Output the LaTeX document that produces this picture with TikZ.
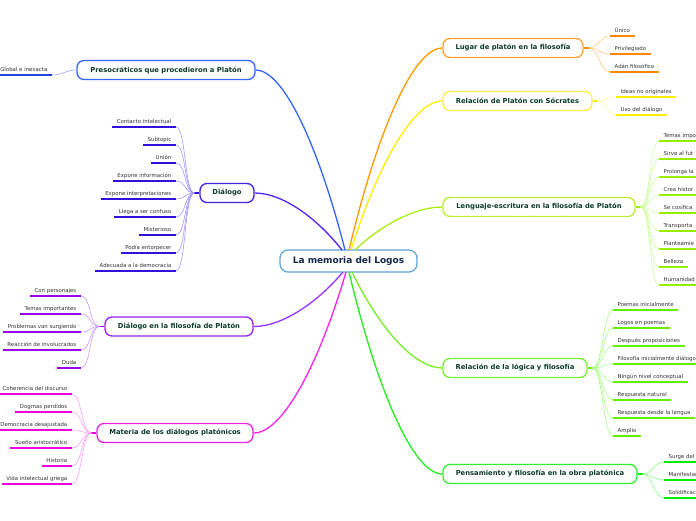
\documentclass[tikz,border=0pt]{standalone}
\usepackage{fontspec}
\setmainfont{DejaVu Sans}
\usetikzlibrary{calc}
\definecolor{maintext}{HTML}{0B3B2C}
\definecolor{leaftext}{HTML}{333333}
\definecolor{centertext}{HTML}{14284B}
\definecolor{Mbx}{HTML}{5AA5DC}
\definecolor{Aln}{HTML}{3366FF}\definecolor{Abx}{HTML}{3366FF}\definecolor{Aul}{HTML}{2244DD}\definecolor{Alc}{HTML}{8FA8FF}
\definecolor{Bln}{HTML}{5522EE}\definecolor{Bbx}{HTML}{4422DD}\definecolor{Bul}{HTML}{3311DD}\definecolor{Blc}{HTML}{A499FF}
\definecolor{Cln}{HTML}{9933FF}\definecolor{Cbx}{HTML}{9922EE}\definecolor{Cul}{HTML}{9900EE}\definecolor{Clc}{HTML}{CC99FF}
\definecolor{Dln}{HTML}{FF22EE}\definecolor{Dbx}{HTML}{EE22DD}\definecolor{Dul}{HTML}{EE00DD}\definecolor{Dlc}{HTML}{FFA0F5}
\definecolor{Eln}{HTML}{FF9900}\definecolor{Ebx}{HTML}{FFA030}\definecolor{Eul}{HTML}{FF8800}\definecolor{Elc}{HTML}{FFCC80}
\definecolor{Fln}{HTML}{FFEE00}\definecolor{Fbx}{HTML}{FFEE44}\definecolor{Ful}{HTML}{FFEE00}\definecolor{Flc}{HTML}{FFFF99}
\definecolor{Gln}{HTML}{AAEE11}\definecolor{Gbx}{HTML}{BBEE33}\definecolor{Gul}{HTML}{99EE00}\definecolor{Glc}{HTML}{CCFF99}
\definecolor{Hln}{HTML}{77EE22}\definecolor{Hbx}{HTML}{77EE33}\definecolor{Hul}{HTML}{66EE00}\definecolor{Hlc}{HTML}{AAFF88}
\definecolor{Iln}{HTML}{22EE22}\definecolor{Ibx}{HTML}{33EE33}\definecolor{Iul}{HTML}{00EE00}\definecolor{Ilc}{HTML}{88FF88}
\newcommand\lffont{\fontsize{5.4}{6}\selectfont}
\newcommand\mnfont{\fontsize{6.8}{8}\selectfont\bfseries}
\newcommand\ctfont{\fontsize{9}{11}\selectfont\bfseries}
\tikzset{
  mainbox/.style={draw=#1bx, line width=1.3pt, rounded corners=7pt, fill=white,
    minimum height=19pt, inner sep=0pt, font=\mnfont, text=maintext},
  mainline/.style={draw=#1ln, line width=1.3pt},
  ulline/.style={draw=#1ul, line width=1.5pt},
  stubline/.style={draw=#1ul, line width=1.2pt},
  leafline/.style={draw=#1lc, line width=0.6pt},
  lleaf/.style={anchor=south east, inner xsep=4.5pt, inner ysep=2.5pt,
    text height=4pt, text depth=1.3pt, font=\lffont, text=leaftext},
  rleaf/.style={anchor=south west, inner xsep=4.5pt, inner ysep=2.5pt,
    text height=4pt, text depth=1.3pt, font=\lffont, text=leaftext}
}
% name, branch, fan, x, y, text
\newcommand\LLeaf[6]{%
  \node[lleaf] (#1) at (#4,#5) {#6};
  \draw[leafline=#2] (#3) .. controls +(-10,0) and +(10,0) .. (#1.south east);
  \draw[ulline=#2] (#1.south west) -- (#1.south east);
}
\newcommand\RLeaf[6]{%
  \node[rleaf] (#1) at (#4,#5) {#6};
  \draw[leafline=#2] (#3) .. controls +(10,0) and +(-10,0) .. (#1.south west);
  \draw[ulline=#2] (#1.south west) -- (#1.south east);
}
\begin{document}
\begin{tikzpicture}[x=1pt,y=-1pt]
\clip (0,0) rectangle (696,520);
\fill[white] (0,0) rectangle (696,520);

% center
\node[draw=Mbx, line width=1.2pt, rounded corners=8pt, fill=white, minimum width=137pt,
  minimum height=22pt, inner sep=0pt, font=\ctfont, text=centertext] (M) at (348.5,261) {La memoria del Logos};

% main nodes
\node[mainbox=A, minimum width=178pt] (A) at (166,70) {Presocráticos que procedieron a Platón};
\node[mainbox=B, minimum width=54pt] (B) at (227,193) {Diálogo};
\node[mainbox=C, minimum width=148pt] (C) at (179,326.5) {Diálogo en la filosofía de Platón};
\node[mainbox=D, minimum width=156pt] (D) at (175,433) {Materia de los diálogos platónicos};
\node[mainbox=E, minimum width=140pt] (E) at (513,48) {Lugar de platón en la filosofía};
\node[mainbox=F, minimum width=149pt] (F) at (517.5,101) {Relación de Platón con Sócrates};
\node[mainbox=G, minimum width=192pt] (G) at (539,207) {Lenguaje-escritura en la filosofía de Platón};
\node[mainbox=H, minimum width=144pt] (H) at (515,368) {Relación de la lógica y filosofía};
\node[mainbox=I, minimum width=194pt] (I) at (540,474) {Pensamiento y filosofía en la obra platónica};

% start points on center node
\coordinate (sA) at (345,250);
\coordinate (sB) at (342,250);
\coordinate (sE) at (349,250);
\coordinate (sF) at (351,250);
\coordinate (sG) at (355,250);
\coordinate (sC) at (343,272);
\coordinate (sD) at (346,272);
\coordinate (sH) at (352,272);
\coordinate (sI) at (349,272);

% main connectors
\draw[mainline=A] (sA) .. controls (319.8,151) and (284.7,70) .. (A.east);
\draw[mainline=B] (sB) .. controls (317.4,218.6) and (283,193) .. (B.east);
\draw[mainline=C] (sC) .. controls (317.8,302) and (282.7,326.5) .. (C.east);
\draw[mainline=D] (sD) .. controls (320,360.5) and (283.7,433) .. (D.east);
\draw[mainline=E] (sE) .. controls (375.3,138.9) and (412,48) .. (E.west);
\draw[mainline=F] (sF) .. controls (376.8,168) and (412.6,101) .. (F.west);
\draw[mainline=G] (sG) .. controls (379.6,226.4) and (414,207) .. (G.west);
\draw[mainline=H] (sH) .. controls (377.5,324.8) and (413,368) .. (H.west);
\draw[mainline=I] (sI) .. controls (375.3,383) and (412,474) .. (I.west);

% fan points
\coordinate (Af) at (A.west);
\coordinate (Bf) at ($(B.west)+(-5,0)$);
\coordinate (Cf) at ($(C.west)+(-5,0)$);
\coordinate (Df) at ($(D.west)+(-5,0)$);
\coordinate (Ef) at ($(E.east)+(5,0)$);
\coordinate (Ff) at ($(F.east)+(5,0)$);
\coordinate (Gf) at ($(G.east)+(5,0)$);
\coordinate (Hf) at ($(H.east)+(5,0)$);
\coordinate (If) at ($(I.east)+(5,0)$);
\draw[stubline=B] (B.west) -- (Bf);
\draw[stubline=C] (C.west) -- (Cf);
\draw[stubline=D] (D.west) -- (Df);
\draw[stubline=E] (E.east) -- (Ef);
\draw[stubline=F] (F.east) -- (Ff);
\draw[stubline=G] (G.east) -- (Gf);
\draw[stubline=H] (H.east) -- (Hf);
\draw[stubline=I] (I.east) -- (If);

% leaves A
\LLeaf{a1}{A}{Af}{52}{75}{Global e inexacta}
% leaves B
\LLeaf{b1}{B}{Bf}{176}{127}{Contacto intelectual}
\LLeaf{b2}{B}{Bf}{176}{145}{Subtopic}
\LLeaf{b3}{B}{Bf}{176}{163}{Unión}
\LLeaf{b4}{B}{Bf}{176}{181}{Expone información}
\LLeaf{b5}{B}{Bf}{176}{199}{Expone interpretaciones}
\LLeaf{b6}{B}{Bf}{176}{217}{Llega a ser confuso}
\LLeaf{b7}{B}{Bf}{176}{235}{Misterioso}
\LLeaf{b8}{B}{Bf}{176}{253}{Podía entorpecer}
\LLeaf{b9}{B}{Bf}{176}{271}{Adecuada a la democracia}
% leaves C
\LLeaf{c1}{C}{Cf}{81}{296}{Con personajes}
\LLeaf{c2}{C}{Cf}{81}{314}{Temas importantes}
\LLeaf{c3}{C}{Cf}{81}{332}{Problemas van surgiendo}
\LLeaf{c4}{C}{Cf}{81}{350}{Reacción de involucrados}
\LLeaf{c5}{C}{Cf}{81}{368}{Duda}
% leaves D
\LLeaf{d1}{D}{Df}{72}{394}{Coherencia del discurso}
\LLeaf{d2}{D}{Df}{72}{412}{Dogmas perdidos}
\LLeaf{d3}{D}{Df}{72}{430}{Democracia desajustada}
\LLeaf{d4}{D}{Df}{72}{448}{Sueño aristocrático}
\LLeaf{d5}{D}{Df}{72}{466}{Historia}
\LLeaf{d6}{D}{Df}{72}{484}{Vida intelectual griega}
% leaves E
\RLeaf{e1}{E}{Ef}{610}{36}{Único}
\RLeaf{e2}{E}{Ef}{610}{54}{Privilegiado}
\RLeaf{e3}{E}{Ef}{610}{72}{Adán filosófico}
% leaves F
\RLeaf{f1}{F}{Ff}{616}{97}{Ideas no originales}
\RLeaf{f2}{F}{Ff}{616}{115}{Uso del diálogo}
% leaves G
\RLeaf{g1}{G}{Gf}{659}{141}{Temas impo\hspace*{20pt}}
\RLeaf{g2}{G}{Gf}{659}{159}{Sirve al fut\hspace*{20pt}}
\RLeaf{g3}{G}{Gf}{659}{177}{Prolonga la\hspace*{20pt}}
\RLeaf{g4}{G}{Gf}{659}{195}{Crea histor\hspace*{20pt}}
\RLeaf{g5}{G}{Gf}{659}{213}{Se cosifica\hspace*{20pt}}
\RLeaf{g6}{G}{Gf}{659}{231}{Transporta\hspace*{20pt}}
\RLeaf{g7}{G}{Gf}{659}{249}{Planteamie\hspace*{20pt}}
\RLeaf{g8}{G}{Gf}{659}{267}{Belleza}
\RLeaf{g9}{G}{Gf}{659}{285}{Humanidad\hspace*{20pt}}
% leaves H
\RLeaf{h1}{H}{Hf}{613}{310}{Poemas inicialmente}
\RLeaf{h2}{H}{Hf}{613}{328}{Logos en poemas}
\RLeaf{h3}{H}{Hf}{613}{346}{Después proposiciones}
\RLeaf{h4}{H}{Hf}{613}{364}{Filosofía inicialmente diálogo}
\RLeaf{h5}{H}{Hf}{613}{382}{Ningún nivel conceptual}
\RLeaf{h6}{H}{Hf}{613}{400}{Respuesta natural}
\RLeaf{h7}{H}{Hf}{613}{418}{Respuesta desde la lengua}
\RLeaf{h8}{H}{Hf}{613}{436}{Amplio}
% leaves I
\RLeaf{i1}{I}{If}{664}{462}{Surge del\hspace*{20pt}}
\RLeaf{i2}{I}{If}{664}{480}{Manifestac\hspace*{20pt}}
\RLeaf{i3}{I}{If}{664}{498}{Solidificac\hspace*{20pt}}
\end{tikzpicture}
\end{document}
